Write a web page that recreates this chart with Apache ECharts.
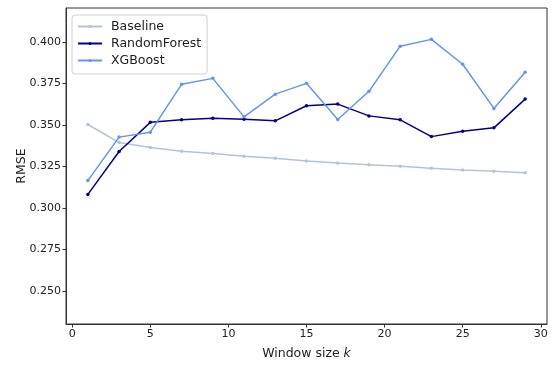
<!DOCTYPE html>
<html>
<head>
<meta charset="utf-8">
<script src="https://cdn.jsdelivr.net/npm/echarts@6/dist/echarts.min.js"></script>
<style>
  html, body { margin: 0; padding: 0; background: #fff; }
  #chart { width: 555px; height: 365px; }
</style>
</head>
<body>
<div id="chart"></div>
<script>
// Window sizes k
var windowSizes = [1, 3, 5, 7, 9, 11, 13, 15, 17, 19, 21, 23, 25, 27, 29];
// RMSE per model
var baseline = [0.3502, 0.3393, 0.3363, 0.3341, 0.3327, 0.3311, 0.3298, 0.3282, 0.3270, 0.3260, 0.3250, 0.3238, 0.3228, 0.3220, 0.3212];
var randomForest = [0.3081, 0.3339, 0.3515, 0.3530, 0.3539, 0.3533, 0.3524, 0.3615, 0.3625, 0.3554, 0.3530, 0.3429, 0.3462, 0.3482, 0.3655];
var xgboost = [0.3164, 0.3426, 0.3456, 0.3744, 0.3780, 0.3548, 0.3685, 0.3750, 0.3532, 0.3702, 0.3974, 0.4015, 0.3865, 0.3599, 0.3817];
// Tick labels
var xTicks = [0, 5, 10, 15, 20, 25, 30];
var yTicks = [0.250, 0.275, 0.300, 0.325, 0.350, 0.375, 0.400];

function pairs(ys) {
  return windowSizes.map(function (k, i) { return [k, ys[i]]; });
}

var font = 'DejaVu Sans';
function mkSeries(name, ys, color) {
  return {
    name: name,
    type: 'line',
    data: pairs(ys),
    symbol: 'circle',
    symbolSize: 3.5,
    showSymbol: true,
    lineStyle: { color: color, width: 1.5 },
    itemStyle: { color: color },
    emphasis: { disabled: true },
    animation: false
  };
}

var chart = echarts.init(document.getElementById('chart'), null, { renderer: 'canvas' });
chart.setOption({
  backgroundColor: '#fff',
  animation: false,
  grid: {
    left: 66, right: 8, top: 8, bottom: 37,
    show: true, borderColor: '#333', borderWidth: 1, backgroundColor: 'transparent'
  },
  legend: {
    orient: 'vertical',
    left: 72, top: 15,
    itemWidth: 24, itemHeight: 4, itemGap: 4,
    padding: [5, 6, 7, 5],
    backgroundColor: 'rgba(255,255,255,0.8)',
    borderColor: '#d0d0d0', borderWidth: 1, borderRadius: 3,
    textStyle: { fontFamily: font, fontSize: 12.5, color: '#222', padding: [0, 0, 0, 4] },
    data: ['Baseline', 'RandomForest', 'XGBoost']
  },
  xAxis: {
    type: 'value',
    min: -0.4, max: 30.4,
    splitLine: { show: false },
    axisLine: { onZero: false, lineStyle: { color: '#333' } },
    axisTick: { show: true, length: 3.5, customValues: xTicks, lineStyle: { color: '#333' } },
    axisLabel: { customValues: xTicks, fontFamily: font, fontSize: 11, color: '#222', margin: 5 },
    name: '{a|Window size }{b|k}',
    nameLocation: 'middle', nameGap: 23,
    nameTextStyle: {
      rich: {
        a: { fontFamily: font, fontSize: 12.5, color: '#222' },
        b: { fontFamily: font, fontSize: 12.5, color: '#222', fontStyle: 'italic' }
      }
    }
  },
  yAxis: {
    type: 'value',
    min: 0.23, max: 0.4204,
    splitLine: { show: false },
    axisLine: { show: true, onZero: false, lineStyle: { color: '#333' } },
    axisTick: { show: true, length: 3.5, customValues: yTicks, lineStyle: { color: '#333' } },
    axisLabel: {
      customValues: yTicks, fontFamily: font, fontSize: 11, color: '#222', margin: 5,
      formatter: function (v) { return v.toFixed(3); }
    },
    name: 'RMSE',
    nameLocation: 'middle', nameGap: 38, nameRotate: 90, nameMoveOverlap: false,
    nameTextStyle: { fontFamily: font, fontSize: 12.5, color: '#222' }
  },
  series: [
    mkSeries('Baseline', baseline, '#b0c4de'),
    mkSeries('RandomForest', randomForest, '#00008b'),
    mkSeries('XGBoost', xgboost, '#6495ed')
  ]
});
</script>
</body>
</html>
